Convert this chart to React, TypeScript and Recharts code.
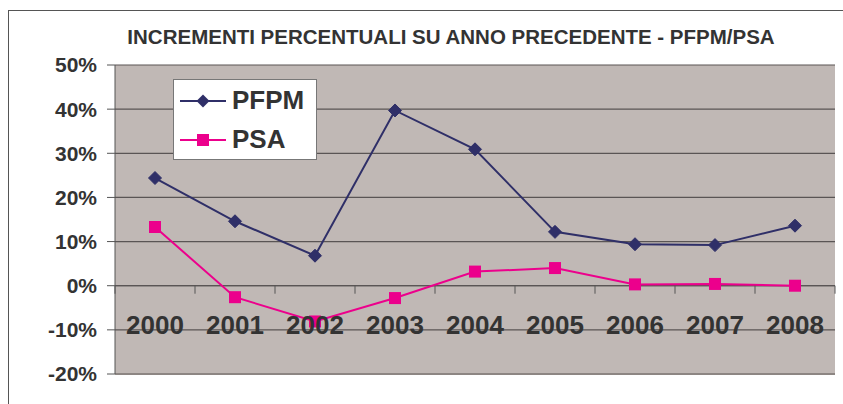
import {
  CartesianGrid,
  Line,
  LineChart,
  ReferenceLine,
  XAxis,
  YAxis,
} from "recharts";

const years = ["2000", "2001", "2002", "2003", "2004", "2005", "2006", "2007", "2008"];
const pfpm = [24.4, 14.6, 6.8, 39.7, 30.9, 12.2, 9.4, 9.2, 13.6];
const psa = [13.3, -2.6, -8.1, -2.8, 3.2, 4.0, 0.3, 0.4, 0.0];
const yTicks = [-20, -10, 0, 10, 20, 30, 40, 50];

const data = years.map((year, i) => ({ year, PFPM: pfpm[i], PSA: psa[i] }));

const W = 843;
const H = 404;
const M = { top: 65, right: 8, bottom: 0, left: 0 };
const Y_W = 115;
const X_H = 30;
const plotTop = M.top;
const plotH = H - M.top - M.bottom - X_H;
const plotW = W - M.left - M.right - Y_W;
const band = plotW / years.length;
const zeroY = plotTop + (plotH * 50) / 70;

const NAVY = "#2f2f68";
const PINK = "#ec008c";
const TEXT = "#333333";
const FONT = "'Liberation Sans', Arial, sans-serif";

function Diamond(props: any) {
  const { cx, cy } = props;
  if (cx == null || cy == null) return null;
  const r = 6.5;
  return (
    <path
      d={`M${cx},${cy - r}L${cx + r},${cy}L${cx},${cy + r}L${cx - r},${cy}Z`}
      fill={NAVY}
      stroke={NAVY}
    />
  );
}

function Square(props: any) {
  const { cx, cy } = props;
  if (cx == null || cy == null) return null;
  const s = 6;
  return <rect x={cx - s} y={cy - s} width={s * 2} height={s * 2} fill={PINK} />;
}

function YearTick(props: any) {
  const { x, payload, index } = props;
  return (
    <g>
      {index === 0 && (
        <line x1={x - band / 2} x2={x - band / 2} y1={zeroY} y2={zeroY + 8} stroke="#555" />
      )}
      <line x1={x + band / 2} x2={x + band / 2} y1={zeroY} y2={zeroY + 8} stroke="#555" />
      <text
        x={x}
        y={zeroY + 48}
        textAnchor="middle"
        fill={TEXT}
        fontSize={26}
        fontWeight="bold"
        fontFamily={FONT}
      >
        {payload.value}
      </text>
    </g>
  );
}

function LegendBox() {
  const row = (label: string, color: string, square: boolean) => (
    <div style={{ display: "flex", alignItems: "center", height: 39 }}>
      <svg width={54} height={20}>
        <line x1={6} x2={52} y1={10} y2={10} stroke={color} strokeWidth={2} />
        {square ? (
          <rect x={23} y={4} width={12} height={12} fill={color} />
        ) : (
          <path d="M29,3.5L35.5,10L29,16.5L22.5,10Z" fill={color} />
        )}
      </svg>
      <span
        style={{
          fontFamily: FONT,
          fontWeight: "bold",
          fontSize: 26,
          color: TEXT,
          marginLeft: 4,
        }}
      >
        {label}
      </span>
    </div>
  );
  return (
    <div
      style={{
        position: "absolute",
        left: 173,
        top: 79,
        width: 142,
        height: 78,
        background: "#fff",
        border: "1px solid #777",
        boxSizing: "content-box",
        paddingTop: 1,
      }}
    >
      {row("PFPM", NAVY, false)}
      {row("PSA", PINK, true)}
    </div>
  );
}

export default function App() {
  return (
    <div style={{ position: "absolute", left: 0, top: 0, width: W, height: H, background: "#fff", overflow: "hidden" }}>
      <div
        style={{
          position: "absolute",
          left: 8,
          top: 10,
          width: W,
          height: H,
          border: "1px solid #555",
        }}
      />
      <div
        style={{
          position: "absolute",
          left: 0,
          width: 902,
          top: 25,
          textAlign: "center",
          fontFamily: FONT,
          fontWeight: "bold",
          fontSize: 20.5,
          color: TEXT,
          whiteSpace: "nowrap",
        }}
      >
        INCREMENTI PERCENTUALI SU ANNO PRECEDENTE - PFPM/PSA
      </div>
      <div style={{ position: "absolute", left: 0, top: 0 }}>
        <LineChart width={W} height={H} data={data} margin={M}>
          <CartesianGrid vertical={false} fill="#c0b8b5" stroke="#5a5555" strokeWidth={1.2} />
          <XAxis
            dataKey="year"
            height={X_H}
            padding={{ left: band / 2, right: band / 2 }}
            axisLine={{ stroke: "#8d8683", strokeWidth: 2 }}
            tickLine={false}
            tick={<YearTick />}
            interval={0}
          />
          <YAxis
            width={Y_W}
            domain={[-20, 50]}
            ticks={yTicks}
            interval={0}
            tickSize={8}
            tickMargin={10}
            axisLine={{ stroke: "#555" }}
            tickLine={{ stroke: "#555" }}
            tickFormatter={(v: number) => `${v}%`}
            tick={{ fill: TEXT, fontSize: 21, fontWeight: "bold", fontFamily: FONT }}
          />
          <YAxis
            yAxisId="r"
            orientation="right"
            width={0}
            domain={[-20, 50]}
            tick={false}
            tickLine={false}
            axisLine={{ stroke: "#8d8683", strokeWidth: 2 }}
          />
          <ReferenceLine y={0} stroke="#5a5555" strokeWidth={1.2} />
          <Line
            dataKey="PFPM"
            stroke={NAVY}
            strokeWidth={2}
            dot={<Diamond />}
            activeDot={false}
            isAnimationActive={false}
          />
          <Line
            dataKey="PSA"
            stroke={PINK}
            strokeWidth={2}
            dot={<Square />}
            activeDot={false}
            isAnimationActive={false}
          />
        </LineChart>
      </div>
      <LegendBox />
    </div>
  );
}
